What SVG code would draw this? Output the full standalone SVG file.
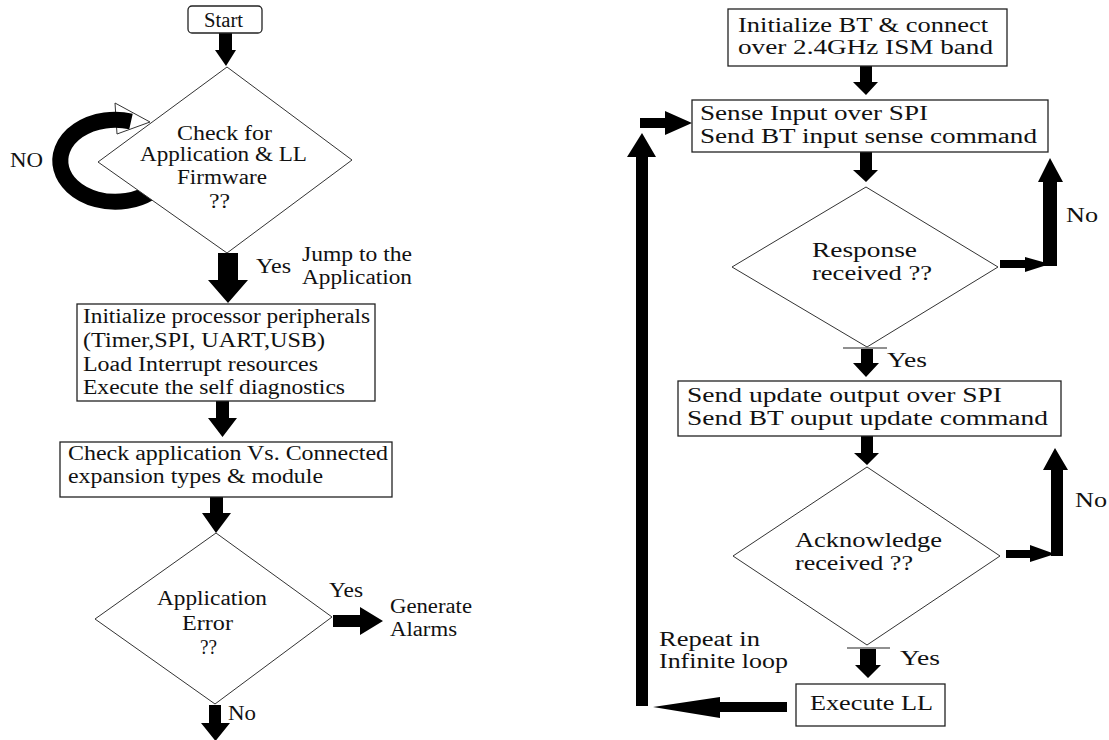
<svg xmlns="http://www.w3.org/2000/svg" width="1109" height="740" viewBox="0 0 1109 740">
<style>
text{font-family:"Liberation Serif","Times New Roman",serif;font-size:20px;fill:#111;}
.box{fill:#fff;stroke:#222;stroke-width:1.3;}
.dia{fill:#fff;stroke:#333;stroke-width:1;}
.arr{fill:#000;stroke:none;}
.thin{stroke:#222;stroke-width:1.2;fill:none;}
</style>
<rect width="1109" height="740" fill="#fff"/>

<g id="connectors">
  <!-- NO loop -->
  <polygon points="115,103 150,122 117,134" fill="#fff" stroke="#333" stroke-width="1"/>
  <path d="M 131 121.5 A 55 41 0 1 0 150 192.6" fill="none" stroke="#000" stroke-width="16"/>
  <!-- Start -> D1 -->
  <polygon class="arr" points="219,33 232,33 232,50 236,50 226,66 215,50 219,50"/>
  <!-- D1 -> Box2 -->
  <polygon class="arr" points="218,253 238,253 238,280 248,280 228,303 208,280 218,280"/>
  <!-- Box2 -> Box3 -->
  <polygon class="arr" points="216,401 229,401 229,418 237,418 222.5,437 208,418 216,418"/>
  <!-- Box3 -> D3 -->
  <polygon class="arr" points="210,497 223,497 223,513 231,513 216,533 202,513 210,513"/>
  <!-- D3 -> Generate Alarms -->
  <polygon class="arr" points="333,615 360,615 360,607 383,621 360,635 360,627 333,627"/>
  <!-- D3 No -->
  <polygon class="arr" points="209,705 221,705 221,723 230,723 215.5,741 201,723 209,723"/>

  <!-- R1 -> R2 -->
  <polygon class="arr" points="860,66 872,66 872,82 878,82 866,95 853,82 860,82"/>
  <!-- R2 -> DR1 -->
  <polygon class="arr" points="860,152 872,152 872,170 878,170 866,182 853,170 860,170"/>
  <!-- DR1 Yes -->
  <line class="thin" x1="843" y1="348" x2="887" y2="348"/>
  <polygon class="arr" points="861,349 873,349 873,363 879,363 866,377 853,363 861,363"/>
  <!-- R3 -> DR2 -->
  <polygon class="arr" points="861,436 873,436 873,453 879,453 867,465 854,453 861,453"/>
  <!-- DR2 Yes -->
  <line class="thin" x1="847" y1="648" x2="890" y2="648"/>
  <polygon class="arr" points="860,649 876,649 876,665 881,665 868,678 855,665 860,665"/>
  <!-- DR1 No -->
  <polygon class="arr" points="1000,260 1025,260 1025,257 1050,264 1025,272 1025,268 1000,268"/>
  <polygon class="arr" points="1043,266 1043,182 1038,182 1050,158 1063,182 1057,182 1057,266"/>
  <!-- DR2 No -->
  <polygon class="arr" points="1006,550 1030,550 1030,545 1055,554 1030,562 1030,558 1006,558"/>
  <polygon class="arr" points="1051,556 1051,470 1043,470 1055,448 1068,470 1063,470 1063,556"/>
  <!-- R4 -> loop back -->
  <polygon class="arr" points="787,702 720,702 720,697 653,707 720,718 720,712 787,712"/>
  <polygon class="arr" points="636,706 636,157 627,157 642,133 656,157 648,157 648,706"/>
  <polygon class="arr" points="640,118 665,118 665,111 692,123 665,135 665,128 640,128"/>
</g>

<g id="start">
  <rect class="box" x="188" y="6" width="74" height="27" rx="4" stroke-width="1"/>
  <text x="204" y="27" textLength="39" lengthAdjust="spacingAndGlyphs">Start</text>
</g>

<g id="check-firmware">
  <polygon class="dia" points="227,67 352,160 227,253 98,162"/>
  <text x="177" y="140" textLength="95" lengthAdjust="spacingAndGlyphs">Check for</text>
  <text x="140" y="161" textLength="167" lengthAdjust="spacingAndGlyphs">Application &amp; LL</text>
  <text x="177" y="184" textLength="90" lengthAdjust="spacingAndGlyphs">Firmware</text>
  <text x="209" y="208" textLength="21" lengthAdjust="spacingAndGlyphs">??</text>
</g>

<g id="labels-left">
  <text x="10" y="167" textLength="33" lengthAdjust="spacingAndGlyphs">NO</text>
  <text x="256" y="273" textLength="35" lengthAdjust="spacingAndGlyphs">Yes</text>
  <text x="302" y="261" textLength="110" lengthAdjust="spacingAndGlyphs">Jump to the</text>
  <text x="302" y="284" textLength="110" lengthAdjust="spacingAndGlyphs">Application</text>
  <text x="329" y="597" textLength="34" lengthAdjust="spacingAndGlyphs">Yes</text>
  <text x="228" y="720" textLength="28" lengthAdjust="spacingAndGlyphs">No</text>
</g>

<g id="init-peripherals">
  <rect class="box" x="77" y="304" width="298" height="97"/>
  <text x="83" y="323" textLength="287" lengthAdjust="spacingAndGlyphs">Initialize processor peripherals</text>
  <text x="83" y="347" textLength="242" lengthAdjust="spacingAndGlyphs">(Timer,SPI, UART,USB)</text>
  <text x="83" y="371" textLength="235" lengthAdjust="spacingAndGlyphs">Load Interrupt resources</text>
  <text x="83" y="394" textLength="262" lengthAdjust="spacingAndGlyphs">Execute the self diagnostics</text>
</g>

<g id="check-application">
  <rect class="box" x="60" y="442" width="332" height="55"/>
  <text x="68" y="460" textLength="320" lengthAdjust="spacingAndGlyphs">Check application Vs. Connected</text>
  <text x="68" y="483" textLength="255" lengthAdjust="spacingAndGlyphs">expansion types &amp; module</text>
</g>

<g id="application-error">
  <polygon class="dia" points="216,533 332,617 215,704 95,619"/>
  <text x="157" y="605" textLength="110" lengthAdjust="spacingAndGlyphs">Application</text>
  <text x="182" y="630" textLength="51" lengthAdjust="spacingAndGlyphs">Error</text>
  <text x="200" y="654" textLength="17" lengthAdjust="spacingAndGlyphs">??</text>
</g>

<g id="generate-alarms">
  <text x="390" y="613" textLength="82" lengthAdjust="spacingAndGlyphs">Generate</text>
  <text x="390" y="636" textLength="67" lengthAdjust="spacingAndGlyphs">Alarms</text>
</g>

<g id="init-bt">
  <rect class="box" x="728" y="9" width="279" height="57"/>
  <text x="738" y="32" textLength="250" lengthAdjust="spacingAndGlyphs">Initialize BT &amp; connect</text>
  <text x="738" y="54" textLength="255" lengthAdjust="spacingAndGlyphs">over 2.4GHz ISM band</text>
</g>

<g id="sense-input">
  <rect class="box" x="692" y="100" width="356" height="52"/>
  <text x="700" y="120" textLength="228" lengthAdjust="spacingAndGlyphs">Sense Input over SPI</text>
  <text x="700" y="143" textLength="337" lengthAdjust="spacingAndGlyphs">Send BT input sense command</text>
</g>

<g id="response-received">
  <polygon class="dia" points="866,187 998,267 867,347 732,267"/>
  <text x="812" y="257" textLength="105" lengthAdjust="spacingAndGlyphs">Response</text>
  <text x="812" y="280" textLength="120" lengthAdjust="spacingAndGlyphs">received ??</text>
</g>

<g id="send-update">
  <rect class="box" x="678" y="381" width="383" height="55"/>
  <text x="687" y="402" textLength="315" lengthAdjust="spacingAndGlyphs">Send update output over SPI</text>
  <text x="687" y="425" textLength="361" lengthAdjust="spacingAndGlyphs">Send BT ouput update command</text>
</g>

<g id="ack-received">
  <polygon class="dia" points="867,467 1000,556 867,645 733,556"/>
  <text x="795" y="547" textLength="147" lengthAdjust="spacingAndGlyphs">Acknowledge</text>
  <text x="795" y="570" textLength="118" lengthAdjust="spacingAndGlyphs">received ??</text>
</g>

<g id="execute-ll">
  <rect class="box" x="796" y="684" width="149" height="42"/>
  <text x="810" y="710" textLength="123" lengthAdjust="spacingAndGlyphs">Execute LL</text>
</g>

<g id="labels-right">
  <text x="1066" y="222" textLength="32" lengthAdjust="spacingAndGlyphs">No</text>
  <text x="887" y="367" textLength="40" lengthAdjust="spacingAndGlyphs">Yes</text>
  <text x="1075" y="507" textLength="32" lengthAdjust="spacingAndGlyphs">No</text>
  <text x="900" y="665" textLength="40" lengthAdjust="spacingAndGlyphs">Yes</text>
  <text x="659" y="646" textLength="101" lengthAdjust="spacingAndGlyphs">Repeat in</text>
  <text x="659" y="668" textLength="129" lengthAdjust="spacingAndGlyphs">Infinite loop</text>
</g>
</svg>
